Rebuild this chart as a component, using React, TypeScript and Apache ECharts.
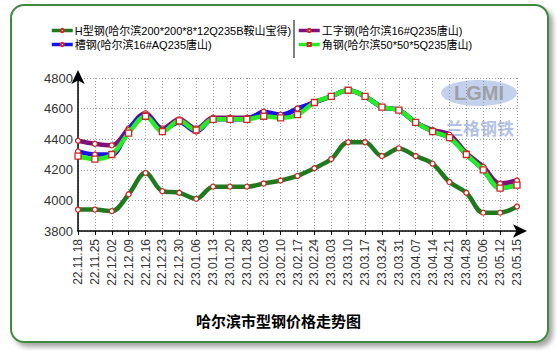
import React, { useEffect, useRef } from "react";
import * as echarts from "echarts";

const categories = [
  "22.11.18", "22.11.25", "22.12.02", "22.12.09", "22.12.16", "22.12.23", "22.12.30",
  "23.01.06", "23.01.13", "23.01.20", "23.01.28", "23.02.03", "23.02.10", "23.02.17",
  "23.02.24", "23.03.03", "23.03.10", "23.03.17", "23.03.24", "23.03.31", "23.04.07",
  "23.04.14", "23.04.21", "23.04.28", "23.05.06", "23.05.12", "23.05.15",
];

const seriesNames = [
  "H型钢(哈尔滨200*200*8*12Q235B鞍山宝得)",
  "工字钢(哈尔滨16#Q235唐山)",
  "槽钢(哈尔滨16#AQ235唐山)",
  "角钢(哈尔滨50*50*5Q235唐山)",
];

const hSteel = [3940, 3940, 3930, 4040, 4180, 4060, 4050, 4010, 4090, 4090, 4090, 4110, 4130, 4160, 4210, 4270, 4380, 4380, 4290, 4340, 4290, 4240, 4120, 4050, 3920, 3920, 3960];
const iBeam = [4390, 4370, 4360, 4470, 4570, 4470, 4530, 4470, 4540, 4540, 4540, 4570, 4550, 4600, 4640, 4680, 4720, 4680, 4610, 4590, 4510, 4460, 4430, 4310, 4220, 4110, 4130];
const channel = [4320, 4300, 4300, 4460, 4560, 4460, 4510, 4450, 4530, 4530, 4530, 4580, 4560, 4600, 4640, 4680, 4720, 4680, 4610, 4590, 4510, 4450, 4410, 4300, 4200, 4080, 4100];
const angle = [4290, 4270, 4300, 4440, 4550, 4450, 4520, 4460, 4530, 4530, 4530, 4550, 4540, 4560, 4640, 4680, 4720, 4680, 4610, 4590, 4510, 4450, 4410, 4300, 4200, 4080, 4100];

const yMin = 3800;
const yMax = 4800;
const yStep = 200;

const chartTitle = "哈尔滨市型钢价格走势图";

export default function App() {
  const ref = useRef<HTMLDivElement>(null);
  useEffect(() => {
    if (!ref.current) return;
    const chart = echarts.init(ref.current, null, { renderer: "svg" });
    const font = "Arial, 'Liberation Sans', 'Noto Sans CJK SC', sans-serif";
    const legendText = {
      fontSize: 11,
      lineHeight: 13,
      color: "#000",
      fontFamily: "'Liberation Sans', 'Noto Sans CJK SC', sans-serif",
      padding: [0, 0, 0, -3],
    };
    const mk = (name: string, data: number[], color: string, symbol: string, size: number, z: number) => ({
      name,
      type: "line",
      data,
      smooth: 0.35,
      symbol,
      symbolSize: size,
      showAllSymbol: true,
      z,
      lineStyle: { color, width: 4.5 },
      itemStyle: { color: "#ffffff", borderColor: "#cc2a2a", borderWidth: 1.3 },
      emphasis: { disabled: true },
    });
    const legendBase = {
      orient: "vertical",
      top: 24,
      itemWidth: 21,
      itemHeight: 4,
      itemGap: 1,
      padding: 0,
      textStyle: legendText,
      lineStyle: { width: 3.5 },
    };
    chart.setOption({
      animation: false,
      textStyle: { fontFamily: font },
      title: {
        text: chartTitle,
        left: "center",
        top: 308,
        textStyle: { fontSize: 15, fontWeight: "bold", color: "#000", fontFamily: "'Noto Sans CJK SC', sans-serif" },
      },
      legend: [
        { ...legendBase, data: [seriesNames[0], seriesNames[2]], left: 50 },
        { ...legendBase, data: [seriesNames[1], seriesNames[3]], left: 297 },
      ],
      grid: { left: 78, right: 40, top: 78, bottom: 120, containLabel: false },
      xAxis: {
        type: "category",
        data: categories,
        boundaryGap: false,
        axisLine: {
          lineStyle: { color: "#000", width: 1.5 },
          symbol: ["none", "arrow"],
          symbolSize: [10, 14],
          symbolOffset: [0, 10],
        },
        axisTick: { show: true, length: 4, lineStyle: { color: "#000" } },
        axisLabel: { rotate: 90, fontSize: 12, color: "#333", margin: 8, fontFamily: font },
        splitLine: { show: true, lineStyle: { color: "#999", type: [1, 2], width: 1 } },
      },
      yAxis: {
        type: "value",
        min: yMin,
        max: yMax,
        interval: yStep,
        axisLine: {
          show: true,
          lineStyle: { color: "#000", width: 1.5 },
          symbol: ["none", "arrow"],
          symbolSize: [10, 14],
          symbolOffset: [0, 8],
        },
        axisTick: { show: false },
        axisLabel: { fontSize: 13, color: "#333", margin: 5, fontFamily: font, formatter: (v: number) => String(v) },
        splitLine: { show: true, lineStyle: { color: "#999", type: [1, 2], width: 1 } },
      },
      graphic: [
        {
          type: "rect",
          z: -10,
          silent: true,
          shape: { x: 11, y: 5, width: 537, height: 337, r: 13 },
          style: {
            fill: "#ffffff",
            stroke: "#3f8a3f",
            lineWidth: 2,
            shadowColor: "rgba(0,0,0,0.35)",
            shadowBlur: 5,
            shadowOffsetX: 4,
            shadowOffsetY: 4,
          },
        },
        {
          type: "line",
          silent: true,
          shape: { x1: 294, y1: 20, x2: 294, y2: 58 },
          style: { stroke: "#555", lineWidth: 1.5 },
        },
        {
          type: "ellipse",
          silent: true,
          z: -1,
          shape: { cx: 479, cy: 93, rx: 38, ry: 13 },
          style: { fill: "#b9c9ea", opacity: 0.85 },
        },
        {
          type: "text",
          silent: true,
          z: -1,
          x: 479,
          y: 93,
          style: {
            text: "LGMI",
            fill: "#9a9a9a",
            font: "bold 20px Arial, sans-serif",
            align: "center",
            verticalAlign: "middle",
            opacity: 0.9,
          },
        },
        {
          type: "text",
          silent: true,
          z: -1,
          x: 480,
          y: 127,
          style: {
            text: "兰格钢铁",
            fill: "#a9b9e3",
            font: "bold 17px 'Noto Sans CJK SC', sans-serif",
            align: "center",
            verticalAlign: "middle",
            opacity: 0.9,
          },
        },
      ],
      series: [
        mk(seriesNames[0], hSteel, "#1f7a1f", "circle", 5, 2),
        mk(seriesNames[1], iBeam, "#7a127a", "circle", 5, 3),
        mk(seriesNames[2], channel, "#1414e6", "circle", 5, 4),
        mk(seriesNames[3], angle, "#22ee22", "rect", 6, 5),
      ],
    });
    return () => chart.dispose();
  }, []);
  return (
    <div
      ref={ref}
      style={{ position: "fixed", left: 0, top: 0, width: 557, height: 351, background: "#fff" }}
    />
  );
}
